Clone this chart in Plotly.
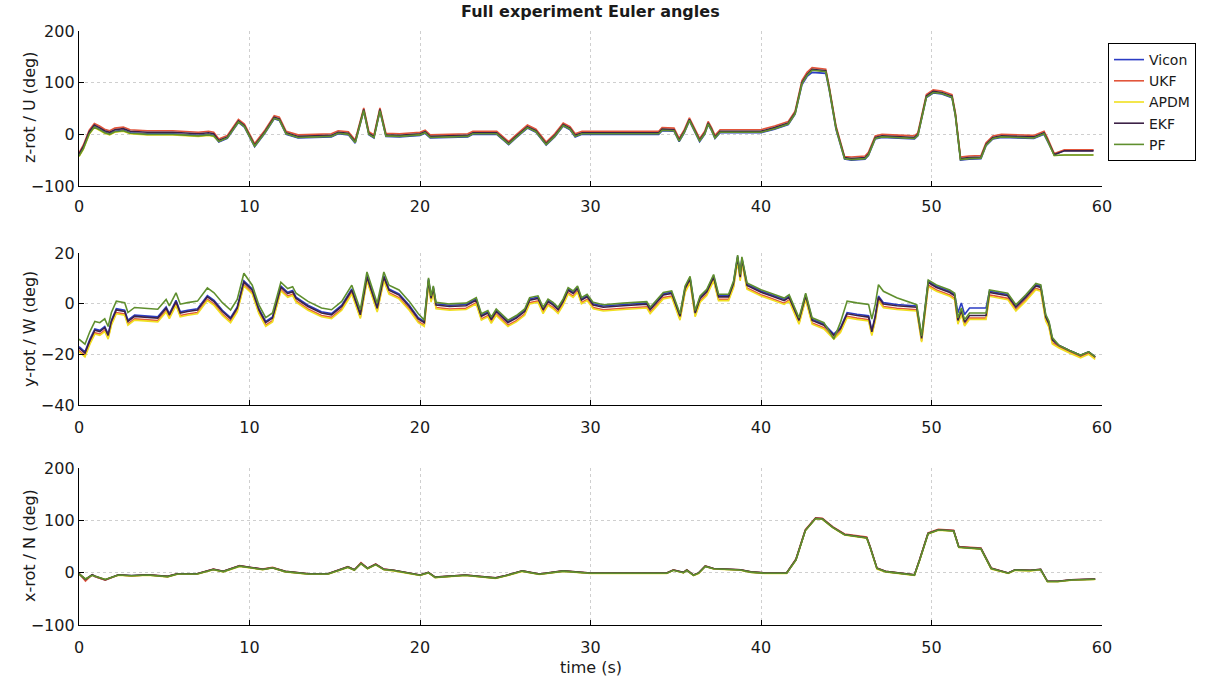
import plotly.graph_objects as go

# ---------------- data ----------------
SERIES = ["Vicon", "UKF", "APDM", "EKF", "PF"]
COLORS = ["#2b3cc4", "#e2553b", "#f0e020", "#3d2247", "#5f8f2e"]

X_TICKS = [0, 10, 20, 30, 40, 50, 60]
Y_TICKS_Z = [-100, 0, 100, 200]
Y_TICKS_Y = [-40, -20, 0, 20]
Y_TICKS_X = [-100, 0, 100, 200]

# z-rot / U
t_top = [0, 0.25, 0.6, 0.9, 1.2, 1.5, 1.8, 2.1, 2.6, 3.0, 4.0, 5.5, 7.0, 7.6, 7.9, 8.2, 8.7, 9.35, 9.7, 10.3,
         10.9, 11.45, 11.75, 12.15, 12.85, 14.0, 14.8, 15.2, 15.8, 16.2, 16.7, 17.0, 17.3, 17.65, 18.0, 18.8, 20.0, 20.3, 20.6, 22.8,
         23.1, 24.5, 25.2, 25.6, 26.3, 26.8, 27.4, 27.9, 28.4, 28.8, 29.1, 29.5, 34.0, 34.2, 34.9, 35.2, 35.5, 35.8, 36.1, 36.4,
         36.7, 36.9, 37.1, 37.3, 37.6, 40.0, 40.8, 41.6, 42.0, 42.4, 42.7, 43.0, 43.8, 44.0, 44.4, 44.9, 45.3, 46.1, 46.3, 46.7,
         47.1, 49.0, 49.2, 49.7, 50.1, 50.6, 51.2, 51.4, 51.7, 52.2, 52.9, 53.2, 53.6, 54.1, 56.0, 56.4, 56.6, 56.8, 57.2, 57.8, 59.5]
z_vicon = [-41, -27, 2, 15, 10, 4, 1, 6, 8, 3, 1, 1, -2, 0, -2, -15, -8, 23, 14, -24, 2, 30, 27, 0, -7, -5, -5, 1, -1, -17,
           45, -1, -7, 45, -4, -5, -2, 2, -7, -5, 0, 0, -20, -8, 12, 4, -21, -5, 16, 9, -5, 0, 0, 7, 6, -14, 3, 26, 7, -14,
           0, 19, 7, -8, 3, 3, 10, 19, 39, 96, 112, 120, 118, 86, 9, -48, -50, -48, -41, -9, -6, -9, -3, 71, 80, 78, 71, 36, -50, -48,
           -47, -22, -9, -6, -8, -3, 0, -13, -40, -31, -31]
z_ukf = [-36, -21, 8, 21, 16, 10, 7, 12, 14, 9, 7, 7, 4, 6, 4, -9, -2, 29, 20, -18, 8, 36, 33, 6, -1, 1, 1, 7, 5, -11,
         51, 5, -1, 51, 2, 1, 4, 8, -1, 1, 6, 6, -14, -2, 18, 10, -15, 1, 22, 15, 1, 6, 6, 13, 12, -8, 9, 32, 13, -8,
         6, 25, 13, -2, 9, 9, 16, 25, 45, 104, 120, 129, 126, 93, 16, -43, -44, -42, -35, -3, 0, -3, 3, 77, 86, 84, 77, 42, -44, -42,
         -41, -16, -3, 0, -2, 3, 6, -7, -37, -30, -30]
z_apdm = [-43, -29, 0, 13, 8, 2, -1, 4, 6, 1, -1, -1, -4, -2, -4, -13, -6, 25, 16, -22, 4, 32, 29, 2, -5, -3, -3, 3, 1, -15,
          47, 1, -5, 47, -2, -3, 0, 4, -5, -3, 2, 2, -18, -6, 14, 6, -19, -3, 18, 11, -3, 2, 2, 9, 8, -12, 5, 28, 9, -12,
          2, 21, 9, -6, 5, 5, 12, 21, 41, 99, 115, 125, 122, 89, 12, -46, -48, -46, -39, -7, -4, -7, -1, 73, 82, 80, 73, 38, -48, -46,
          -45, -20, -7, -4, -6, -1, 2, -11, -41, -40, -40]
z_ekf = [-38, -24, 5, 18, 13, 7, 4, 9, 11, 6, 4, 4, 1, 3, 1, -12, -5, 26, 17, -21, 5, 33, 30, 3, -4, -2, -2, 4, 2, -14,
         48, 2, -4, 48, -1, -2, 1, 5, -4, -2, 3, 3, -17, -5, 15, 7, -18, -2, 19, 12, -2, 3, 3, 10, 9, -11, 6, 29, 10, -11,
         3, 22, 10, -5, 6, 6, 13, 22, 42, 100, 116, 126, 123, 90, 13, -45, -47, -45, -38, -6, -3, -6, 0, 74, 83, 81, 74, 39, -47, -45,
         -44, -19, -6, -3, -5, 0, 3, -10, -39, -32, -32]
z_pf = [-42, -28, 1, 14, 9, 3, 0, 5, 7, 2, 0, 0, -3, -1, -3, -14, -7, 24, 15, -23, 3, 31, 28, 1, -6, -4, -4, 2, 0, -16,
        46, 0, -6, 46, -3, -4, -1, 3, -6, -4, 1, 1, -19, -7, 13, 5, -20, -4, 17, 10, -4, 1, 1, 8, 7, -13, 4, 27, 8, -13,
        1, 20, 8, -7, 4, 4, 11, 20, 40, 98, 114, 124, 121, 88, 11, -47, -49, -47, -40, -8, -5, -8, -2, 72, 81, 79, 72, 37, -49, -47,
        -46, -21, -8, -5, -7, -2, 1, -12, -41, -40, -40]

# y-rot / W
t_mid = [0, 0.35, 0.64, 0.93, 1.22, 1.51, 1.71, 1.9, 2.19, 2.68, 2.87, 3.26, 3.84, 4.62, 5.11, 5.3, 5.69, 5.94, 6.37, 6.95,
         7.53, 7.92, 8.41, 8.89, 9.28, 9.67, 10.16, 10.55, 10.95, 11.35, 11.84, 12.24, 12.53, 12.73, 13.43, 14.22, 14.81, 15.41, 16.0, 16.5,
         16.89, 17.19, 17.49, 17.88, 18.18, 18.77, 19.37, 19.9, 20.25, 20.5, 20.65, 20.78, 20.94, 21.73, 22.7, 23.3, 23.6, 23.98, 24.18, 24.47,
         24.76, 25.16, 25.65, 26.14, 26.43, 26.92, 27.22, 27.51, 27.8, 28.1, 28.39, 28.69, 28.98, 29.24, 29.47, 29.8, 30.16, 30.75, 31.92, 33.3,
         33.5, 34.27, 34.76, 35.25, 35.55, 35.84, 36.14, 36.43, 36.82, 37.22, 37.51, 38.1, 38.39, 38.63, 38.78, 38.88, 39.18, 40.0, 40.58, 41.36,
         41.65, 42.23, 42.62, 43.0, 43.69, 44.27, 44.66, 45.05, 45.63, 46.31, 46.5, 46.7, 46.89, 47.18, 47.96, 49.13, 49.42, 49.81, 50.29, 51.07,
         51.36, 51.55, 51.75, 51.94, 52.23, 53.2, 53.4, 53.98, 54.47, 54.95, 55.53, 56.12, 56.41, 56.7, 56.89, 57.09, 57.48, 58.06, 58.74, 59.22, 59.6]
y_vicon = [-17, -19, -14, -10, -10.5, -9, -12, -6.5, -2, -2.6, -6.5, -4.5, -4.8, -5.2, -1.3, -3.9, 1.3, -3.2, -2.6, -2,
           3.2, 1.3, -2.6, -5.5, -1.3, 9, 5.8, -2, -7, -5.2, 7, 4.5, 5.2, 2.6, -0.6, -3.2, -3.9, -0.6, 5.8, -3.9,
           11, 5.2, -1.3, 11, 5.8, 3.9, -0.6, -5.5, -7, 9.7, 2.6, 6.5, 0, -0.6, -0.3, 1.9, -4.5, -3.2, -5.8, -2.6,
           -4.5, -7, -5.2, -2.6, 1.9, 2.6, -1.9, 1.3, 0, -1.9, 1.3, 5.8, 4.5, 6.5, 1.9, 3.2, 0, -0.9, -0.3, 0.3,
           -1.9, 3.9, 4.5, -4.5, 6.5, 10.3, -3.2, 2.6, 5.2, 11, 3.2, 3.2, 8.4, 18.7, 11, 18, 7.7, 5, 3.6, 1.7,
           3, -6.1, 3.6, -6.1, -8, -12, -9.4, -3.5, -4.2, -4.8, -10.6, -4.8, 3, 0.4, -0.3, -0.9, -13.2, 8.8, 6.9, 4.9,
           3.6, -3.6, 0.3, -4.3, -1.7, -1.7, 4.9, 4.3, 3.6, -0.9, 3, 7.5, 6.9, -4.8, -7.4, -13.9, -16.5, -18.4, -20.4, -19, -21]
y_ukf = [-18.5, -20.5, -15.5, -11.5, -12, -10.5, -13.5, -8, -3.5, -4.1, -8, -6, -6.3, -6.7, -2.8, -5.4, -0.2, -4.7, -4.1, -3.5,
         1.7, -0.2, -4.1, -7, -2.8, 7.5, 4.3, -3.5, -8.5, -6.7, 5.5, 3, 3.7, 1.1, -2.1, -4.7, -5.4, -2.1, 4.3, -5.4,
         9.5, 3.7, -2.8, 9.5, 4.3, 2.4, -2.1, -7, -8.5, 8.2, 1.1, 5, -1.5, -2.1, -1.8, 0.4, -6, -4.7, -7.3, -4.1,
         -6, -8.5, -6.7, -4.1, 0.4, 1.1, -3.4, -0.2, -1.5, -3.4, -0.2, 4.3, 3, 5, 0.4, 1.7, -1.5, -2.4, -1.8, -1.2,
         -3.4, 2.4, 3, -6, 5, 8.8, -4.7, 1.1, 3.7, 9.5, 1.7, 1.7, 6.9, 17.2, 9.5, 16.5, 6.2, 3.5, 2.1, 0.2,
         1.5, -7.6, 2.1, -7.6, -9.5, -13.5, -10.9, -5, -5.7, -6.3, -12.1, -6.3, 1.5, -1.1, -1.8, -2.4, -14.7, 7.3, 5.4, 3.4,
         2.1, -7.6, -3.7, -8.3, -5.7, -5.7, 3.4, 2.8, 2.1, -2.4, 1.5, 6, 5.4, -6.3, -8.9, -15.4, -17, -18.9, -20.9, -19.5, -21.5]
y_apdm = [-19, -21, -16, -12, -12.5, -11, -14, -8.5, -4, -4.6, -8.5, -6.5, -6.8, -7.2, -3.3, -5.9, -0.7, -5.2, -4.6, -4,
          1.2, -0.7, -4.6, -7.5, -3.3, 7, 3.8, -4, -9, -7.2, 5, 2.5, 3.2, 0.6, -2.6, -5.2, -5.9, -2.6, 3.8, -5.9,
          9, 3.2, -3.3, 9, 3.8, 1.9, -2.6, -7.5, -9, 7.7, 0.6, 4.5, -2, -2.6, -2.3, -0.1, -6.5, -5.2, -7.8, -4.6,
          -6.5, -9, -7.2, -4.6, -0.1, 0.6, -3.9, -0.7, -2, -3.9, -0.7, 3.8, 2.5, 4.5, -0.1, 1.2, -2, -2.9, -2.3, -1.7,
          -3.9, 1.9, 2.5, -6.5, 4.5, 8.3, -5.2, 0.6, 3.2, 9, 1.2, 1.2, 6.4, 16.7, 9, 16, 5.7, 3, 1.6, -0.3,
          1, -8.1, 1.6, -8.1, -10, -14, -11.4, -5.5, -6.2, -6.8, -12.6, -6.8, 1, -1.6, -2.3, -2.9, -15.2, 6.8, 4.9, 2.9,
          1.6, -8.1, -4.2, -8.8, -6.2, -6.2, 2.9, 2.3, 1.6, -2.9, 1, 5.5, 4.9, -6.8, -9.4, -15.9, -17.5, -19.4, -21.4, -20, -22]
y_ekf = [-17.5, -19.5, -14.5, -10.5, -11, -9.5, -12.5, -7, -2.5, -3.1, -7, -5, -5.3, -5.7, -1.8, -4.4, 0.8, -3.7, -3.1, -2.5,
         2.7, 0.8, -3.1, -6, -1.8, 8.5, 5.3, -2.5, -7.5, -5.7, 6.5, 4, 4.7, 2.1, -1.1, -3.7, -4.4, -1.1, 5.3, -4.4,
         10.5, 4.7, -1.8, 10.5, 5.3, 3.4, -1.1, -6, -7.5, 9.2, 2.1, 6, -0.5, -1.1, -0.8, 1.4, -5, -3.7, -6.3, -3.1,
         -5, -7.5, -5.7, -3.1, 1.4, 2.1, -2.4, 0.8, -0.5, -2.4, 0.8, 5.3, 4, 6, 1.4, 2.7, -0.5, -1.4, -0.8, -0.2,
         -2.4, 3.4, 4, -5, 6, 9.8, -3.7, 2.1, 4.7, 10.5, 2.7, 2.7, 7.9, 18.2, 10.5, 17.5, 7.2, 4.5, 3.1, 1.2,
         2.5, -6.6, 3.1, -6.6, -8.5, -12.5, -9.9, -4, -4.7, -5.3, -11.1, -5.3, 2.5, -0.1, -0.8, -1.4, -13.7, 8.3, 6.4, 4.4,
         3.1, -6.6, -2.7, -7.3, -4.7, -4.7, 4.4, 3.8, 3.1, -1.4, 2.5, 7, 6.4, -5.3, -7.9, -14.4, -16.5, -18.4, -20.4, -19, -21]
y_pf = [-14, -16, -11, -7, -7.5, -6, -9, -3.5, 1, 0.4, -3.5, -1.5, -1.8, -2.2, 1.7, -0.9, 4.3, -0.2, 0.4, 1,
        6.2, 4.3, 0.4, -2.5, 1.7, 12, 7.3, -0.5, -5.5, -3.7, 8.5, 6, 6.7, 4.1, 0.9, -1.7, -2.4, 0.9, 7.3, -2.4,
        12.5, 6.7, 0.2, 12.5, 7.3, 5.4, 0.9, -4, -6.5, 10.2, 3.1, 7, 0.5, -0.1, 0.2, 2.4, -4, -2.7, -5.3, -2.1,
        -4, -6.5, -4.7, -2.1, 2.4, 3.1, -1.4, 1.8, 0.5, -1.4, 1.8, 6.3, 5, 7, 2.4, 3.7, 0.5, -0.4, 0.2, 0.8,
        -1.4, 4.4, 5, -4, 7, 10.8, -2.7, 3.1, 5.7, 11.5, 3.7, 3.7, 8.9, 19.2, 11.5, 18.5, 8.2, 5.5, 4.1, 2.2,
        3.5, -5.6, 4.1, -5.6, -7.5, -14, -7.4, 1, 0.3, -0.3, -6.1, -0.3, 7.5, 4.9, 2.3, -0.4, -12.7, 9.3, 7.4, 5.4,
        4.1, -5.6, -1.7, -6.3, -3.7, -3.7, 5.4, 4.8, 4.1, -0.4, 3.5, 8, 7.4, -4.3, -6.9, -13.4, -16.5, -18.4, -20.4, -19, -21]

# x-rot / N
t_bot = [0, 0.38, 0.77, 0.96, 1.54, 2.31, 3.08, 4.04, 5.2, 5.77, 6.92, 7.88, 8.46, 9.42, 10, 10.77, 11.35, 12.1, 13.46, 14.6,
         15.77, 16.15, 16.54, 16.92, 17.4, 17.88, 18.46, 20, 20.49, 20.89, 22.66, 24.43, 25.02, 26, 27, 28.4, 30, 32.5, 34.47, 34.86,
         35.45, 35.65, 36.04, 36.34, 36.73, 37.22, 38, 38.8, 39.4, 40.2, 41.5, 42.05, 42.6, 43.2, 43.6, 44.2, 44.9, 46.2, 46.4, 46.8,
         47.3, 49, 49.3, 49.8, 50.4, 51.3, 51.6, 52, 52.9, 53.5, 54.5, 54.9, 55.8, 56.4, 56.8, 57.4, 58.2, 59.6]
x_vicon = [-2.5, -14, -4.4, -7.6, -14, -4.4, -6, -4.4, -7.6, -2.5, -2.5, 6.3, 2, 13, 10, 6.3, 9.5, 2, -2.5, -2.5,
           11, 5, 18, 8, 16, 6.3, 4, -5, 0, -9, -5, -10.6, -6, 3, -3, 3, -1, -1, -1, 5,
           0, 5, -5, -1, 12.5, 7.5, 6, 5, 1, -1, -1, 25, 81, 104, 103, 87, 73, 67, 49, 8,
           2, -4.4, 24, 75, 82, 80, 49, 48, 46, 8, -1, 5, 4, 6, -17, -17, -14, -12.7]
x_ukf = [-1, -16, -4, -8, -14.5, -4, -6.5, -4, -7, -2, -2, 6.8, 2.5, 13.5, 10.5, 6.8, 10, 2.5, -2, -2,
         11.5, 5.5, 19, 8.5, 16.5, 6.8, 4.5, -4.5, 0.5, -8.5, -4.5, -10, -5.5, 3.5, -2.5, 3.5, -0.5, -0.5, -0.5, 5.5,
         0.5, 5.5, -4.5, -0.5, 13, 8, 6.5, 5.5, 1.5, -0.5, -0.5, 26, 82, 105, 104, 88, 74, 68, 50, 9,
         2.5, -4, 25, 76, 83, 81, 50, 49, 47, 9, -0.5, 5.5, 4.5, 6.5, -16.5, -16.5, -13.5, -12]
x_apdm = [-3, -12, -5, -7, -13, -5, -6.5, -5, -8, -3, -3, 5.5, 1.5, 12, 9.5, 5.5, 9, 1.5, -3, -3,
          10, 4.5, 17, 7.5, 15, 5.5, 3.5, -5.5, -0.5, -9.5, -5.5, -11, -6.5, 2.5, -3.5, 2.5, -1.5, -1.5, -1.5, 4.5,
          -0.5, 4.5, -5.5, -1.5, 12, 7, 5.5, 4.5, 0.5, -1.5, -1.5, 24, 80, 103, 102, 86, 72, 66, 48, 7,
          1.5, -5, 23, 74, 81, 79, 48, 47, 45, 7, -1.5, 4.5, 3.5, 5.5, -17.5, -17.5, -14.5, -13]
x_ekf = [-2, -13, -4, -7, -13.5, -4, -5.5, -4, -7, -2, -2, 6.5, 2.5, 13, 10.5, 6.5, 9.5, 2.5, -2, -2,
         11, 5.5, 18, 8.5, 16, 6.5, 4.5, -4.5, 0.5, -8.5, -4.5, -10, -5.5, 3.5, -2.5, 3.5, -0.5, -0.5, -0.5, 5,
         0.5, 5, -4.5, -0.5, 12.5, 8, 6.5, 5.5, 1.5, -0.5, -0.5, 25, 81, 104, 103, 87, 73, 67, 49, 8.5,
         2.5, -4, 24, 75, 82, 80, 49, 48, 46, 8.5, -0.5, 5.5, 4.5, 6.5, -16.5, -16.5, -13.5, -12.2]
x_pf = [-2.5, -12, -5, -7, -13, -4.5, -6, -4.5, -7.5, -2.5, -2.5, 6, 2, 12.5, 10, 6, 9.5, 2, -2.5, -2.5,
        10.5, 5, 17.5, 8, 15.5, 6, 4, -5, 0, -9, -5, -10.5, -6, 3, -3, 3, -1, -1, -1, 4.5,
        0, 4.5, -5, -1, 12, 7.5, 6, 5, 1, -1, -1, 24.5, 80.5, 103.5, 102.5, 86.5, 72.5, 66.5, 48.5, 8,
        2, -4.5, 23.5, 74.5, 81.5, 79.5, 48.5, 47.5, 45.5, 8, -1, 5, 4, 6, -17, -17, -14, -12.7]

# ---------------- figure ----------------
FONT = "DejaVu Sans"
TXT = "#1a1a1a"
W, H = 1206, 682

fig = go.Figure()

panels = [
    ("x", "y", t_top, [z_vicon, z_ukf, z_apdm, z_ekf, z_pf], True),
    ("x2", "y2", t_mid, [y_vicon, y_ukf, y_apdm, y_ekf, y_pf], False),
    ("x3", "y3", t_bot, [x_vicon, x_ukf, x_apdm, x_ekf, x_pf], False),
]
for xa, ya, tt, ser, leg in panels:
    for name, col, vals in zip(SERIES, COLORS, ser):
        fig.add_trace(go.Scatter(x=tt, y=vals, mode="lines", name=name, showlegend=leg,
                                 line=dict(color=col, width=1.6), xaxis=xa, yaxis=ya))

# pixel layout
L, R, T, B = 79, 1102, 31, 625
ph = B - T
def dom(top_px, bot_px):
    return [(B - bot_px) / ph, (B - top_px) / ph]

axis_common = dict(showline=True, linecolor="black", linewidth=1.4, mirror=False,
                   ticks="inside", ticklen=5, tickcolor="black", tickwidth=1,
                   showgrid=True, gridcolor="#cfcfcf", griddash="dot", gridwidth=1,
                   zeroline=False, tickfont=dict(family=FONT, size=16, color=TXT))

lay = dict(
    width=W, height=H,
    margin=dict(l=L, r=W - R, t=T, b=H - B, autoexpand=False),
    plot_bgcolor="white", paper_bgcolor="white",
    showlegend=True,
    legend=dict(x=(1108 - L) / (R - L), y=(H - 43 - (H - B)) / ph, xref="paper", yref="paper",
                xanchor="left", yanchor="top",
                bgcolor="white", bordercolor="black", borderwidth=1,
                font=dict(family=FONT, size=14, color=TXT), tracegroupgap=0),
)
domains = [dom(31, 186), dom(253, 405), dom(468, 625)]
yticks = [Y_TICKS_Z, Y_TICKS_Y, Y_TICKS_X]
xstand = [6, 8, 8]
for i in range(3):
    sfx = "" if i == 0 else str(i + 1)
    lay["xaxis" + sfx] = dict(axis_common, domain=[0, 1], range=[0, 60], tickvals=X_TICKS,
                              anchor="y" + sfx, ticklabelstandoff=xstand[i])
    lay["yaxis" + sfx] = dict(axis_common, domain=domains[i],
                              range=[yticks[i][0], yticks[i][-1]], tickvals=yticks[i],
                              anchor="x" + sfx, ticklabelstandoff=0)
fig.update_layout(**lay)

ylabels = ["z-rot / U (deg)", "y-rot / W (deg)", "x-rot / N (deg)"]
ycent = [108, 329, 546]
for lab, yc in zip(ylabels, ycent):
    fig.add_annotation(text=lab, textangle=-90, xref="paper", yref="paper",
                       x=(29 - L) / (R - L), y=(B - yc) / ph, showarrow=False,
                       xanchor="center", yanchor="middle",
                       font=dict(family=FONT, size=16, color=TXT))
fig.add_annotation(text="<b>Full experiment Euler angles</b>", xref="paper", yref="paper",
                   x=0.5, y=(B - 12) / ph, showarrow=False, xanchor="center", yanchor="middle",
                   font=dict(family=FONT, size=16, color=TXT))
fig.add_annotation(text="time (s)", xref="paper", yref="paper",
                   x=0.5, y=(B - 667) / ph, showarrow=False, xanchor="center", yanchor="middle",
                   font=dict(family=FONT, size=16, color=TXT))

fig.write_html("out.html")
